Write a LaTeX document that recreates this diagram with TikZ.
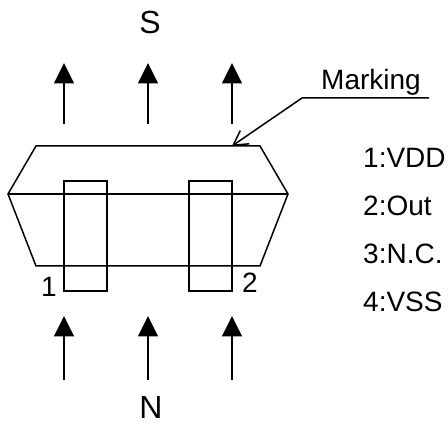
\documentclass[tikz,border=0pt]{standalone}
\usepackage{fontspec}
\setmainfont{Liberation Sans}
\usetikzlibrary{arrows.meta}
\tikzset{
  x=1pt,y=-1pt,
  part/.style={draw=black,line width=1.5pt,line join=miter},
  flow/.style={draw=black,line width=1.5pt,-{Triangle[length=20.5pt,width=20pt]}},
  lead/.style={draw=black,line width=1.5pt,-{Straight Barb[length=14pt,width=16pt,line width=1.5pt]}},
  lbl/.style={inner sep=0pt,font=\fontsize{28}{32}\selectfont,text=black,anchor=base},
  biglbl/.style={lbl,font=\fontsize{32}{36}\selectfont},
  pinlbl/.style={lbl,anchor=base west}
}
\begin{document}
\begin{tikzpicture}
\useasboundingbox (0,0) rectangle (448,425);
% package body
\draw[part] (36,146) -- (260,146) -- (288,194) -- (260,266) -- (36,266) -- (8,194) -- cycle;
\draw[part] (8,194) -- (288,194);
% leads
\draw[part] (64,181) rectangle (107,291);
\draw[part] (189,181) rectangle (232,291);
% S arrows
\coordinate (s1a) at (64,124); \coordinate (s1b) at (64,63);
\coordinate (s2a) at (148,124); \coordinate (s2b) at (148,63);
\coordinate (s3a) at (232,124); \coordinate (s3b) at (232,63);
\draw[flow] (s1a) -- (s1b);
\draw[flow] (s2a) -- (s2b);
\draw[flow] (s3a) -- (s3b);
% N arrows
\coordinate (n1a) at (64,380); \coordinate (n1b) at (64,316);
\coordinate (n2a) at (148,380); \coordinate (n2b) at (148,316);
\coordinate (n3a) at (232,380); \coordinate (n3b) at (232,316);
\draw[flow] (n1a) -- (n1b);
\draw[flow] (n2a) -- (n2b);
\draw[flow] (n3a) -- (n3b);
% Marking
\coordinate (m0) at (429,98); \coordinate (m1) at (302,98); \coordinate (m2) at (232,146);
\draw[lead] (m0) -- (m1) -- (m2);
\node[lbl] (mark) at (371,89.5) {Marking};
\node[biglbl] (S) at (150,34) {S};
\node[biglbl] (N) at (151,418) {N};
\node[lbl] (one) at (49,297) {1};
\node[lbl] (two) at (250,293) {2};
\node[pinlbl] (p1) at (363,168) {1:VDD};
\node[pinlbl] (p2) at (363,216) {2:Out};
\node[pinlbl] (p3) at (363,264) {3:N.C.};
\node[pinlbl] (p4) at (363,312) {4:VSS};
\end{tikzpicture}
\end{document}
